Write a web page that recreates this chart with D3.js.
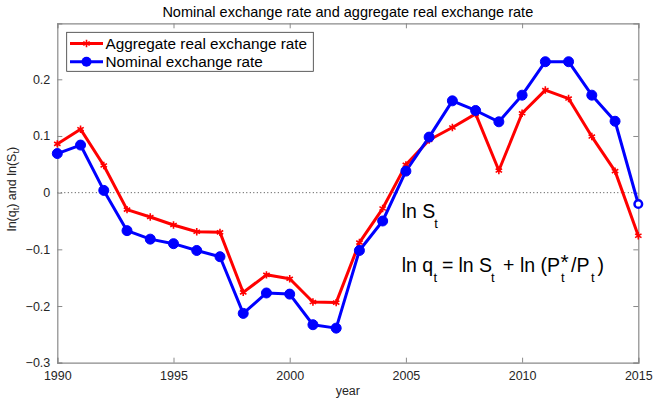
<!DOCTYPE html>
<html><head><meta charset="utf-8">
<script src="https://cdn.jsdelivr.net/npm/d3@7"></script>
<style>body{margin:0;background:#fff}svg{display:block}text{font-family:"Liberation Sans",Arial,sans-serif}</style>
</head><body><svg id="c" width="654" height="399"></svg>
<script>
const years = d3.range(1990, 2016);
const realRate = [0.086,0.112,0.048,-0.030,-0.043,-0.057,-0.069,-0.070,-0.176,-0.145,-0.152,-0.193,-0.194,-0.088,-0.028,0.049,0.093,0.115,0.139,0.039,0.140,0.181,0.166,0.099,0.038,-0.076];
const nominalRate = [0.069,0.084,0.004,-0.067,-0.082,-0.090,-0.102,-0.113,-0.213,-0.177,-0.179,-0.233,-0.239,-0.102,-0.050,0.038,0.098,0.162,0.145,0.125,0.172,0.231,0.231,0.172,0.126,-0.020];
const xTicks = [1990,1995,2000,2005,2010,2015];
const yTicks = [-0.3,-0.2,-0.1,0,0.1,0.2];
const seriesNames = ["Aggregate real exchange rate","Nominal exchange rate"];

const svg = d3.select("#c");
const L=57.3, R=638.3, T=23.3, B=362.7;
const x = d3.scaleLinear().domain([1990,2015]).range([L,R]);
const y = d3.scaleLinear().domain([-0.3,0.2988]).range([B,T]);
const axisCol="#8a8a8a", txtCol="#262626";

svg.append("line").attr("x1",L).attr("x2",R).attr("y1",y(0)).attr("y2",y(0))
  .attr("stroke","#444").attr("stroke-width",1).attr("stroke-dasharray","1,2.5");

const fmt = d=> d===0?"0":d3.format(".1f")(d);
const gx = svg.append("g").attr("transform",`translate(0,${B})`)
  .call(d3.axisBottom(x).tickValues(xTicks).tickSize(-5).tickPadding(8).tickFormat(d3.format("d")));
const gxt = svg.append("g").attr("transform",`translate(0,${T})`)
  .call(d3.axisTop(x).tickValues(xTicks).tickSize(-5).tickFormat(""));
const gy = svg.append("g").attr("transform",`translate(${L},0)`)
  .call(d3.axisLeft(y).tickValues(yTicks).tickSize(-5).tickPadding(7).tickFormat(fmt));
const gyr = svg.append("g").attr("transform",`translate(${R},0)`)
  .call(d3.axisRight(y).tickValues(yTicks).tickSize(-5).tickFormat(""));
[gx,gxt,gy,gyr].forEach(g=>{
  g.select(".domain").attr("stroke",axisCol).attr("stroke-width",1.2);
  g.selectAll(".tick line").attr("stroke",axisCol);
  g.selectAll(".tick text").attr("fill",txtCol).style("font-size","12.5px").style("font-family",'"Liberation Sans",Arial,sans-serif');
});

const line = d3.line().x((d,i)=>x(years[i])).y(d=>y(d));
svg.append("path").datum(realRate).attr("d",line).attr("fill","none").attr("stroke","#ff0000").attr("stroke-width",3).attr("stroke-linejoin","round");
svg.append("path").datum(nominalRate).attr("d",line).attr("fill","none").attr("stroke","#0000ff").attr("stroke-width",3).attr("stroke-linejoin","round");

const ast = d3.symbol().type(d3.symbolAsterisk).size(38);
svg.append("g").selectAll("path").data(realRate).join("path")
  .attr("transform",(d,i)=>`translate(${x(years[i])},${y(d)})`).attr("d",ast)
  .attr("fill","none").attr("stroke","#ff0000").attr("stroke-width",1.6);
const last = nominalRate.length-1;
svg.append("g").selectAll("circle").data(nominalRate).join("circle")
  .attr("cx",(d,i)=>x(years[i])).attr("cy",d=>y(d))
  .attr("r",(d,i)=>i===last?3.8:5)
  .attr("fill",(d,i)=>i===last?"#fff":"#0000ff")
  .attr("stroke","#0000ff").attr("stroke-width",(d,i)=>i===last?2.5:1);

svg.append("text").attr("x",(L+R)/2).attr("y",17.3).attr("text-anchor","middle")
  .style("font-size","14.5px").attr("fill","#000").text("Nominal exchange rate and aggregate real exchange rate");
svg.append("text").attr("x",(L+R)/2).attr("y",394.5).attr("text-anchor","middle")
  .style("font-size","12.5px").attr("fill",txtCol).text("year");
const yl = svg.append("text").attr("transform",`translate(16,${(T+B)/2-4}) rotate(-90)`).attr("text-anchor","middle")
  .style("font-size","12.5px").attr("fill",txtCol);
yl.append("tspan").text("ln(q");
yl.append("tspan").attr("dy",3).style("font-size","9px").text("t");
yl.append("tspan").attr("dy",-3).text(") and ln(S");
yl.append("tspan").attr("dy",3).style("font-size","9px").text("t");
yl.append("tspan").attr("dy",-3).text(")");

const lg = svg.append("g");
lg.append("rect").attr("x",66.7).attr("y",32.3).attr("width",246.6).attr("height",39).attr("fill","#fff").attr("stroke","#333").attr("stroke-width",0.8);
const rows=[43.5,61.7];
lg.append("line").attr("x1",70).attr("x2",103).attr("y1",rows[0]).attr("y2",rows[0]).attr("stroke","#ff0000").attr("stroke-width",3);
lg.append("path").attr("transform",`translate(86.5,${rows[0]})`).attr("d",ast).attr("fill","none").attr("stroke","#ff0000").attr("stroke-width",1.6);
lg.append("line").attr("x1",70).attr("x2",103).attr("y1",rows[1]).attr("y2",rows[1]).attr("stroke","#0000ff").attr("stroke-width",3);
lg.append("circle").attr("cx",86.5).attr("cy",rows[1]).attr("r",5).attr("fill","#0000ff");
seriesNames.forEach((n,i)=>lg.append("text").attr("x",105.5).attr("y",rows[i]+5.5).style("font-size","15.3px").attr("fill","#000").text(n));

const FS="19.5px", SS="13px";
const b1=218.3, b2=271.5, sub=10;
const a1 = svg.append("text").style("font-size",FS).attr("fill","#000");
a1.append("tspan").attr("x",401.7).attr("y",b1).text("ln S");
a1.append("tspan").attr("x",434.3).attr("y",b1+sub).style("font-size",SS).text("t");
const pieces = [
  ["ln q",401.7,b2,FS],["t",433.6,b2+sub,SS],["=",442,b2,FS],["ln S",458.4,b2,FS],["t",491,b2+sub,SS],
  ["+",503,b2,FS],["ln (P",520,b2,FS],["*",560.5,b2-2.5,"21px"],["t",561,b2+sub,SS],["/P",571,b2,FS],
  ["t",591,b2+sub,SS],[")",597.5,b2,FS]];
const a2 = svg.append("text").style("font-size",FS).attr("fill","#000");
pieces.forEach(p=>a2.append("tspan").attr("x",p[1]).attr("y",p[2]).style("font-size",p[3]).text(p[0]));
</script></body></html>
